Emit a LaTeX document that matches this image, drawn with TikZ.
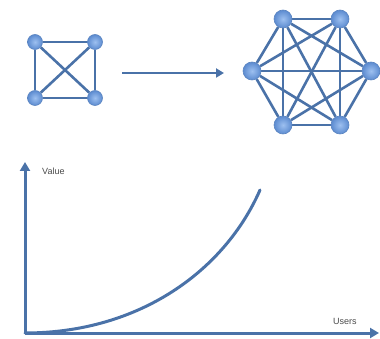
\documentclass[tikz,border=0pt]{standalone}
\usepackage{fontspec}
\setsansfont{Liberation Sans}
\usetikzlibrary{arrows.meta,backgrounds}
\definecolor{edgeblue}{HTML}{4A72A8}
\definecolor{nodein}{HTML}{9DC0F0}
\definecolor{nodeout}{HTML}{5C8BD0}
\definecolor{nodeline}{HTML}{5A84C0}
\definecolor{txt}{HTML}{4A4A4A}
\begin{document}
\begin{tikzpicture}[x=1pt,y=-1pt,
  smallnode/.style={circle,minimum size=15pt,inner sep=0pt,draw=nodeline,line width=0.6pt,inner color=nodein,outer color=nodeout},
  bignode/.style={circle,minimum size=18pt,inner sep=0pt,draw=nodeline,line width=0.6pt,inner color=nodein,outer color=nodeout},
  link/.style={draw=edgeblue,line width=2.6pt},
  axis/.style={draw=edgeblue,line width=3pt,-{Triangle[length=9pt,width=10pt]}},
  lbl/.style={font=\fontsize{9}{10}\selectfont\sffamily,text=txt,inner sep=0pt}]
\useasboundingbox (0,0) rectangle (380,339);
% small square graph
\node[smallnode] (a1) at (35,42) {};
\node[smallnode] (a2) at (95,42) {};
\node[smallnode] (a3) at (35,98) {};
\node[smallnode] (a4) at (95,98) {};
% hexagon graph
\node[bignode] (b1) at (283,19) {};
\node[bignode] (b2) at (340,19) {};
\node[bignode] (b3) at (371,71) {};
\node[bignode] (b4) at (340,125) {};
\node[bignode] (b5) at (283,125) {};
\node[bignode] (b6) at (252,71) {};
\begin{pgfonlayer}{background}
\foreach \p/\q in {a1/a2,a1/a3,a1/a4,a2/a3,a2/a4,a3/a4}
  \draw[link] (\p) -- (\q);
\foreach \p/\q in {b1/b2,b1/b3,b1/b4,b1/b5,b1/b6,b2/b3,b2/b4,b2/b5,b2/b6,b3/b4,b3/b5,b3/b6,b4/b5,b4/b6,b5/b6}
  \draw[link] (\p) -- (\q);
\end{pgfonlayer}
% arrow between graphs
\coordinate (s) at (122,73);
\coordinate (e) at (224,73);
\draw[draw=edgeblue,line width=2.6pt,-{Triangle[length=8pt,width=9pt]}] (s) -- (e);
% axes
\coordinate (o) at (25,333);
\coordinate (ytip) at (25,162);
\coordinate (xtip) at (379,333);
\draw[axis] (o) -- (ytip);
\draw[axis] (o) -- (xtip);
\node[lbl,anchor=west] (vl) at (42,171) {Value};
\node[lbl,anchor=west] (ul) at (333,321) {Users};
% curve
\coordinate (c1) at (260,190);
\draw[draw=edgeblue,line width=3pt,line cap=round] (o) .. controls (140,333) and (225,270) .. (c1);
\end{tikzpicture}
\end{document}
